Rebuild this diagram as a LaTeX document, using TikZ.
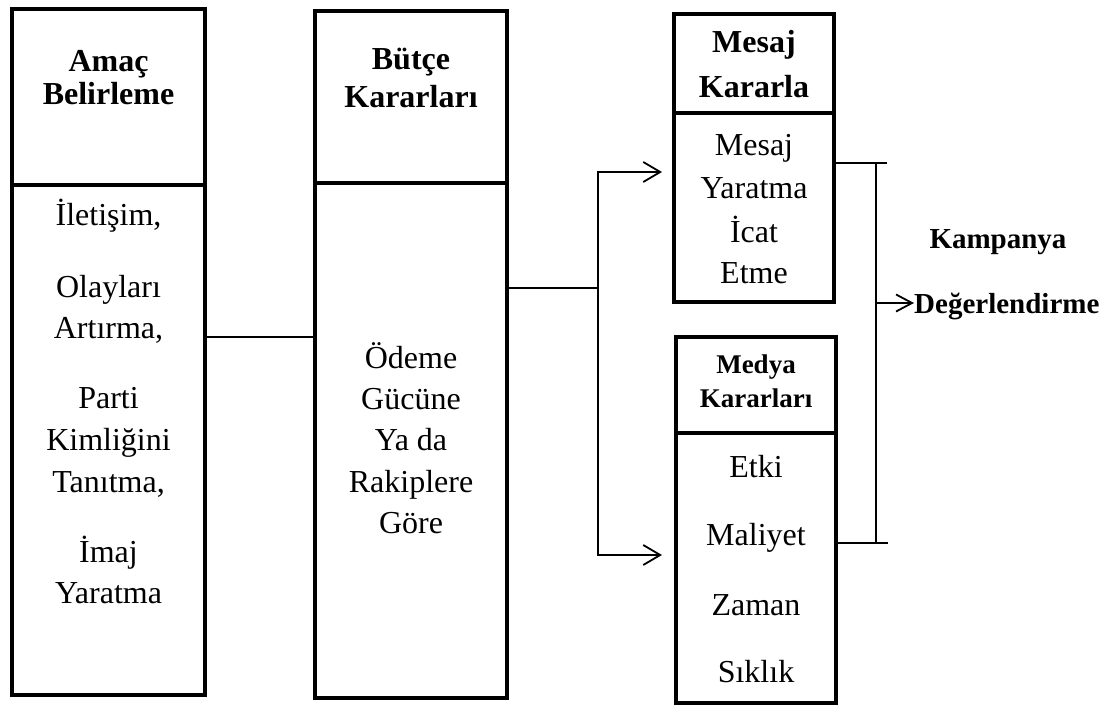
\documentclass[tikz,border=0pt]{standalone}
\usepackage{fontspec}
\setmainfont{Liberation Serif}
\usetikzlibrary{arrows.meta}

\begin{document}
\begin{tikzpicture}[x=1pt, y=-1pt,
  box/.style = {draw, line width=4.5pt, inner sep=0pt},
  head/.style = {anchor=base, inner sep=0pt, font=\fontsize{32}{38}\selectfont\bfseries},
  smallhead/.style = {head, font=\fontsize{27}{32}\selectfont\bfseries},
  txt/.style = {anchor=base, inner sep=0pt, font=\fontsize{32}{38}\selectfont},
  side/.style = {anchor=base, inner sep=0pt, font=\fontsize{29}{34}\selectfont\bfseries},
  conn/.style = {line width=1.8pt},
  arr/.style = {conn, -{Straight Barb[length=17pt, width=20pt, line width=1.8pt]}},
  brk/.style = {line width=1.5pt}]
	\useasboundingbox (0,0) rectangle (1112,709);
	\node[box, minimum width=193pt, minimum height=176pt] (amacHead) at (108.5,97) {};
	\node[box, minimum width=193pt, minimum height=510pt] (amacBody) at (108.5,440) {};
	\node[box, minimum width=192pt, minimum height=172pt] (butceHead) at (411,97) {};
	\node[box, minimum width=192pt, minimum height=515pt] (butceBody) at (411,440.5) {};
	\node[box, minimum width=160pt, minimum height=99pt] (mesajHead) at (754,63.5) {};
	\node[box, minimum width=160pt, minimum height=189pt] (mesajBody) at (754,207.5) {};
	\node[box, minimum width=160pt, minimum height=96pt] (medyaHead) at (756,385) {};
	\node[box, minimum width=160pt, minimum height=270pt] (medyaBody) at (756,568) {};
	\foreach \yy/\t [count=\i] in {72/Amaç, 105/Belirleme}
	  \node[head] (amacT\i) at (108.5,\yy) {\t};
	\foreach \yy/\t [count=\i] in {70/Bütçe, 107/Kararları}
	  \node[head] (butceT\i) at (411,\yy) {\t};
	\foreach \yy/\t [count=\i] in {53/Mesaj, 97/Kararla}
	  \node[head] (mesajT\i) at (754,\yy) {\t};
	\foreach \yy/\t [count=\i] in {373/Medya, 407/Kararları}
	  \node[smallhead] (medyaT\i) at (756,\yy) {\t};
	\foreach \yy/\t [count=\i] in {225/{İletişim,}, 297/Olayları, 338/{Artırma,}, 408/Parti, 450/Kimliğini, 492/{Tanıtma,}, 562/İmaj, 603/Yaratma}
	  \node[txt] (amacL\i) at (108.5,\yy) {\t};
	\foreach \yy/\t [count=\i] in {368/Ödeme, 409/Gücüne, 450/Ya da, 492/Rakiplere, 533/Göre}
	  \node[txt] (butceL\i) at (411,\yy) {\t};
	\foreach \yy/\t [count=\i] in {155/Mesaj, 198/Yaratma, 242/İcat, 283/Etme}
	  \node[txt] (mesajL\i) at (754,\yy) {\t};
	\foreach \yy/\t [count=\i] in {477/Etki, 545/Maliyet, 615/Zaman, 682/Sıklık}
	  \node[txt] (medyaL\i) at (756,\yy) {\t};
	\node[side] (kampanya) at (998,248) {Kampanya};
	\node[side, anchor=base west] (degerlendirme) at (914,313) {Değerlendirme};
	\coordinate (ab) at (0,337);
	\coordinate (split) at (598,288);
	\coordinate (toMesaj) at (662,172);
	\coordinate (toMedya) at (662,555);
	\coordinate (brTop) at (887,163);
	\coordinate (brBot) at (888,543);
	\coordinate (brUp) at (876,163);
	\coordinate (brDown) at (876,543);
	\coordinate (brMid) at (876,303);
	\draw[conn] (amacBody.east |- ab) -- (butceBody.west |- ab);
	\draw[conn] (butceBody.east |- split) -- (split);
	\draw[arr] (split) |- (toMesaj);
	\draw[arr] (split) |- (toMedya);
	\draw[brk] (mesajBody.east |- brTop) -- (brTop);
	\draw[brk] (medyaBody.east |- brBot) -- (brBot);
	\draw[brk] (brUp) -- (brDown);
	\draw[arr, -{Straight Barb[length=16pt, width=17pt, line width=1.8pt]}] (brMid) -- (degerlendirme.west |- brMid);
\end{tikzpicture}
\end{document}
